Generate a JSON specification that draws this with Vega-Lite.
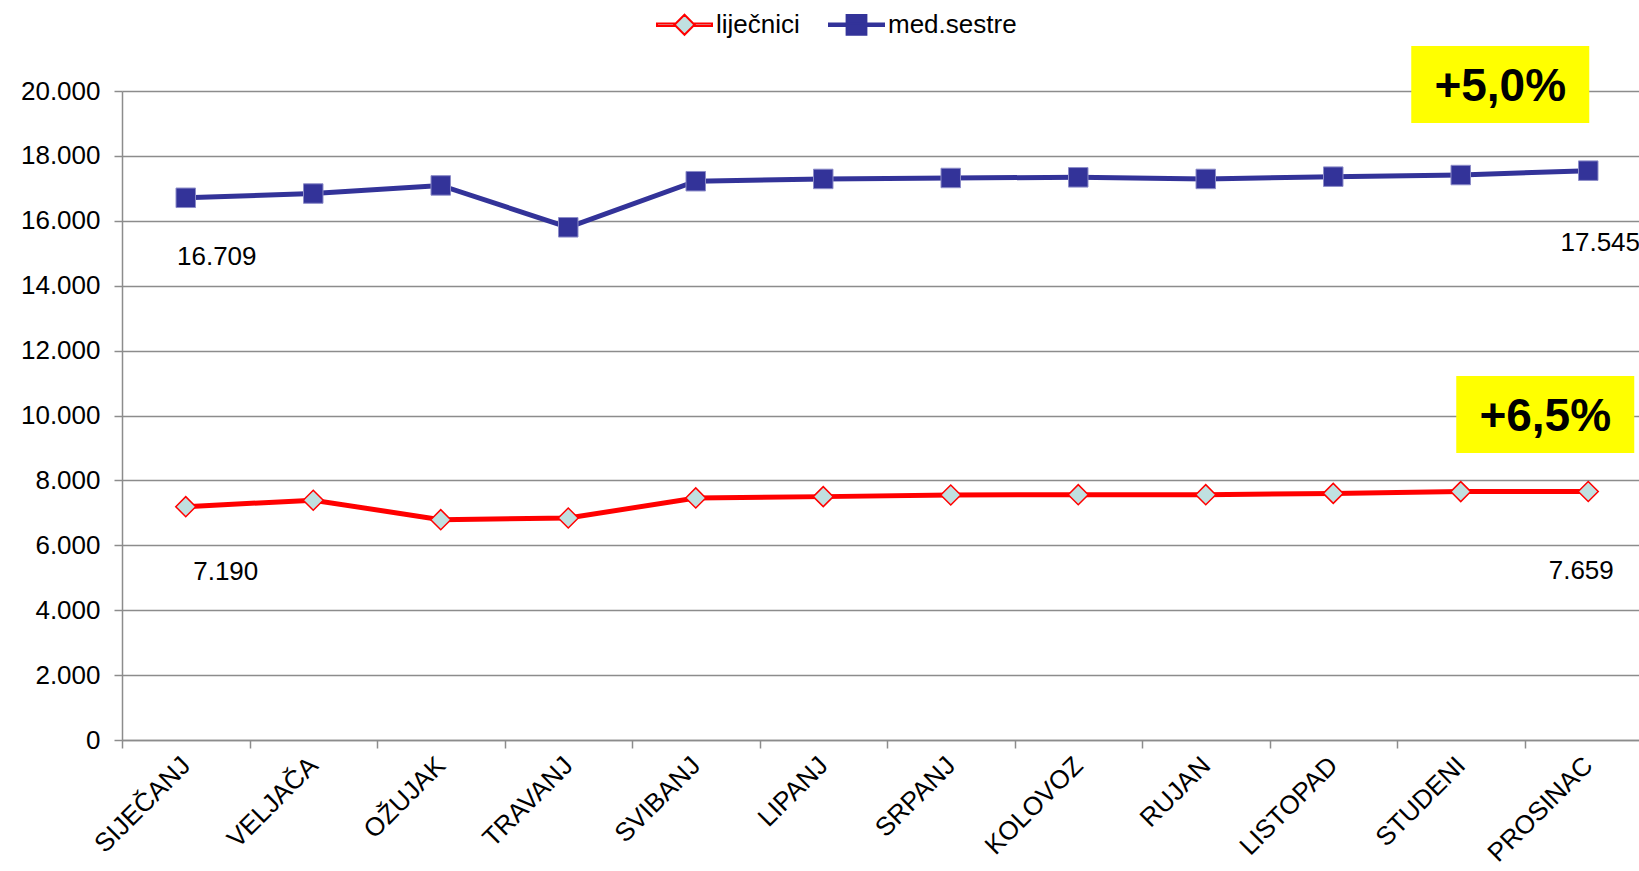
{
  "$schema": "https://vega.github.io/schema/vega-lite/v6.json",
  "autosize": {"type": "none"},
  "width": 1517,
  "height": 649,
  "padding": {"left": 122, "top": 91, "right": 0, "bottom": 131},
  "background": "white",
  "config": {
    "view": {"stroke": null},
    "font": "Liberation Sans",
    "locale": {"number": {"decimal": ",", "thousands": ".", "grouping": [3], "currency": ["", ""]}}
  },
  "datasets": {
    "main": [
      {"month": "SIJEČANJ", "series": "liječnici", "value": 7190},
      {"month": "VELJAČA", "series": "liječnici", "value": 7390},
      {"month": "OŽUJAK", "series": "liječnici", "value": 6790},
      {"month": "TRAVANJ", "series": "liječnici", "value": 6840},
      {"month": "SVIBANJ", "series": "liječnici", "value": 7460},
      {"month": "LIPANJ", "series": "liječnici", "value": 7500},
      {"month": "SRPANJ", "series": "liječnici", "value": 7550},
      {"month": "KOLOVOZ", "series": "liječnici", "value": 7560},
      {"month": "RUJAN", "series": "liječnici", "value": 7560},
      {"month": "LISTOPAD", "series": "liječnici", "value": 7600},
      {"month": "STUDENI", "series": "liječnici", "value": 7655},
      {"month": "PROSINAC", "series": "liječnici", "value": 7659},
      {"month": "SIJEČANJ", "series": "med.sestre", "value": 16709},
      {"month": "VELJAČA", "series": "med.sestre", "value": 16840},
      {"month": "OŽUJAK", "series": "med.sestre", "value": 17090},
      {"month": "TRAVANJ", "series": "med.sestre", "value": 15800},
      {"month": "SVIBANJ", "series": "med.sestre", "value": 17220},
      {"month": "LIPANJ", "series": "med.sestre", "value": 17290},
      {"month": "SRPANJ", "series": "med.sestre", "value": 17320},
      {"month": "KOLOVOZ", "series": "med.sestre", "value": 17340},
      {"month": "RUJAN", "series": "med.sestre", "value": 17290},
      {"month": "LISTOPAD", "series": "med.sestre", "value": 17360},
      {"month": "STUDENI", "series": "med.sestre", "value": 17410},
      {"month": "PROSINAC", "series": "med.sestre", "value": 17545}
    ],
    "notes": [
      {"month": "PROSINAC", "value": 20200, "label": "+5,0%"},
      {"month": "PROSINAC", "value": 10030, "label": "+6,5%"}
    ]
  },
  "data": {"name": "main"},
  "encoding": {
    "x": {
      "field": "month", "type": "nominal",
      "sort": ["SIJEČANJ","VELJAČA","OŽUJAK","TRAVANJ","SVIBANJ","LIPANJ","SRPANJ","KOLOVOZ","RUJAN","LISTOPAD","STUDENI","PROSINAC"],
      "scale": {"type": "band", "range": [0, 1530], "paddingInner": 0, "paddingOuter": 0},
      "axis": {
        "title": null, "labelAngle": -45, "labelAlign": "right", "labelBaseline": "middle",
        "labelFontSize": 26, "labelFont": "Liberation Sans", "labelColor": "black",
        "labelPadding": 13, "labelOverlap": false, "labelLimit": 400,
        "tickBand": "extent", "tickSize": 8, "tickColor": "#8c8c8c", "tickWidth": 1.5,
        "domainColor": "#8c8c8c", "domainWidth": 1.5, "grid": false
      }
    },
    "y": {
      "field": "value", "type": "quantitative",
      "scale": {"domain": [0, 20000], "nice": false},
      "axis": {
        "title": null, "values": [0,2000,4000,6000,8000,10000,12000,14000,16000,18000,20000],
        "format": ",.0f", "labelFontSize": 26, "labelFont": "Liberation Sans", "labelColor": "black",
        "labelPadding": 14, "tickSize": 8, "tickColor": "#8c8c8c", "tickWidth": 1.5,
        "domainColor": "#8c8c8c", "domainWidth": 1.5,
        "grid": true, "gridColor": "#8c8c8c", "gridWidth": 1.5
      }
    }
  },
  "layer": [
    {
      "mark": {"type": "line", "strokeWidth": 5},
      "encoding": {
        "color": {
          "field": "series", "type": "nominal",
          "scale": {"domain": ["liječnici", "med.sestre"], "range": ["#ff0000", "#333399"]},
          "legend": {
            "orient": "none", "legendX": 534, "legendY": -95, "direction": "horizontal",
            "title": null, "padding": 0,
            "symbolSize": 3025, "labelFontSize": 26, "labelFont": "Liberation Sans", "labelColor": "black",
            "labelOffset": 3, "columnPadding": 25,
            "encode": {
              "symbols": {
                "update": {
                  "shape": {"signal": "datum.value === 'liječnici' ? 'M-1,-0.045L-0.34,-0.045L-0.34,0.045L-1,0.045Z M0.34,-0.045L1,-0.045L1,0.045L0.34,0.045Z M-0.364,0L0,-0.364L0.364,0L0,0.364Z' : 'M-1,-0.045L1,-0.045L1,0.045L-1,0.045Z M-0.36,-0.36L0.36,-0.36L0.36,0.36L-0.36,0.36Z'"},
                  "fill": {"signal": "datum.value === 'liječnici' ? '#c0e0e0' : '#333399'"},
                  "stroke": {"signal": "datum.value === 'liječnici' ? '#ff0000' : '#333399'"},
                  "strokeWidth": {"value": 2},
                  "opacity": {"value": 1},
                  "fillOpacity": {"value": 1},
                  "strokeOpacity": {"value": 1}
                }
              }
            }
          }
        }
      }
    },
    {
      "transform": [{"filter": "datum.series === 'liječnici'"}],
      "mark": {"type": "point", "shape": "diamond", "filled": true, "fill": "#c0e0e0", "stroke": "#ff0000", "strokeWidth": 1.5, "size": 400, "opacity": 1}
    },
    {
      "transform": [{"filter": "datum.series === 'med.sestre'"}],
      "mark": {"type": "point", "shape": "square", "filled": true, "fill": "#333399", "stroke": "#8c8cc8", "strokeWidth": 1, "size": 380, "opacity": 1}
    },
    {
      "transform": [{"filter": "datum.series === 'med.sestre' && datum.month === 'SIJEČANJ'"}],
      "mark": {"type": "text", "fontSize": 26, "color": "black", "align": "center", "baseline": "middle", "dx": 31, "dy": 59},
      "encoding": {"text": {"field": "value", "type": "quantitative", "format": ",.0f"}}
    },
    {
      "transform": [{"filter": "datum.series === 'med.sestre' && datum.month === 'PROSINAC'"}],
      "mark": {"type": "text", "fontSize": 26, "color": "black", "align": "center", "baseline": "middle", "dx": 12, "dy": 72},
      "encoding": {"text": {"field": "value", "type": "quantitative", "format": ",.0f"}}
    },
    {
      "transform": [{"filter": "datum.series === 'liječnici' && datum.month === 'SIJEČANJ'"}],
      "mark": {"type": "text", "fontSize": 26, "color": "black", "align": "center", "baseline": "middle", "dx": 40, "dy": 65},
      "encoding": {"text": {"field": "value", "type": "quantitative", "format": ",.0f"}}
    },
    {
      "transform": [{"filter": "datum.series === 'liječnici' && datum.month === 'PROSINAC'"}],
      "mark": {"type": "text", "fontSize": 26, "color": "black", "align": "center", "baseline": "middle", "dx": -7, "dy": 80},
      "encoding": {"text": {"field": "value", "type": "quantitative", "format": ",.0f"}}
    },
    {
      "data": {"name": "notes"},
      "transform": [{"filter": "datum.label === '+5,0%'"}],
      "mark": {"type": "point", "shape": "M-1,-0.4326L1,-0.4326L1,0.4326L-1,0.4326Z", "size": 31684, "filled": true, "fill": "#ffff00", "strokeWidth": 0, "opacity": 1, "xOffset": -88}
    },
    {
      "data": {"name": "notes"},
      "transform": [{"filter": "datum.label === '+5,0%'"}],
      "mark": {"type": "text", "fontSize": 46, "fontWeight": "bold", "color": "black", "align": "center", "baseline": "middle", "dx": -88, "dy": 2},
      "encoding": {"text": {"field": "label", "type": "nominal"}}
    },
    {
      "data": {"name": "notes"},
      "transform": [{"filter": "datum.label === '+6,5%'"}],
      "mark": {"type": "point", "shape": "M-1,-0.4326L1,-0.4326L1,0.4326L-1,0.4326Z", "size": 31684, "filled": true, "fill": "#ffff00", "strokeWidth": 0, "opacity": 1, "xOffset": -43}
    },
    {
      "data": {"name": "notes"},
      "transform": [{"filter": "datum.label === '+6,5%'"}],
      "mark": {"type": "text", "fontSize": 46, "fontWeight": "bold", "color": "black", "align": "center", "baseline": "middle", "dx": -43, "dy": 2},
      "encoding": {"text": {"field": "label", "type": "nominal"}}
    }
  ]
}
